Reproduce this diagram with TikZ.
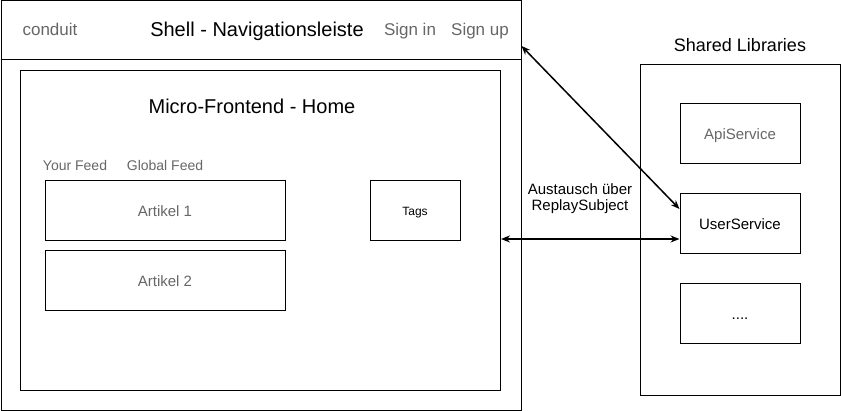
\documentclass[tikz,border=0pt]{standalone}
\usepackage{fontspec}
\setmainfont{Liberation Sans}
\usetikzlibrary{arrows.meta}
\definecolor{txtgrey}{HTML}{666666}
\tikzset{
  box/.style={draw=black, line width=1pt, minimum width=#1, inner sep=0pt},
  box/.default=120pt,
  lbl/.style={inner sep=0pt, text height={0.72*#1pt}, text depth=0pt, font=\fontsize{#1}{#1}\selectfont},
  glbl/.style={lbl=#1, text=txtgrey},
  link/.style={line width=1.5pt, {Stealth[length=9pt,width=7pt]}-{Stealth[length=9pt,width=7pt]}}
}
\begin{document}
\begin{tikzpicture}[x=1pt,y=-1pt]
\useasboundingbox (0,0) rectangle (841,411);
% shell
\node[box=520pt, minimum height=410pt, anchor=north west] (shell) at (0.5,0.5) {};
\draw[line width=1pt] (shell.west |- 0,60) coordinate (nl) -- (shell.east |- 0,60) coordinate (nr);
\node[glbl=17] (conduit) at (50,29) {conduit};
\node[lbl=20] (shelltitle) at (257,29) {Shell - Navigationsleiste};
\node[glbl=17] (signin) at (410,29) {Sign in};
\node[glbl=17] (signup) at (480,29) {Sign up};
% home
\node[box=480pt, minimum height=320pt, anchor=north west] (home) at (20,70) {};
\node[lbl=20] (hometitle) at (252,106) {Micro-Frontend - Home};
\node[glbl=14] (yourfeed) at (75,165) {Your Feed};
\node[glbl=14] (globalfeed) at (165,165) {Global Feed};
\node[box=240pt, minimum height=60pt, anchor=north] (art1) at (165,180.5) {};
\node[glbl=15] (art1t) at (art1) {Artikel 1};
\node[box=240pt, minimum height=60pt, anchor=north] (art2) at (165,250.5) {};
\node[glbl=15] (art2t) at (art2) {Artikel 2};
\node[box=90pt, minimum height=60pt, anchor=north] (tags) at (415,180.5) {};
\node[lbl=12] (tagst) at (tags) {Tags};
% shared libs
\node[lbl=18] (sharedtitle) at (740,45) {Shared Libraries};
\node[box=200pt, minimum height=331pt, anchor=north west] (shared) at (640,64) {};
\node[box=120pt, minimum height=60pt] (api) at (740,134) {};
\node[glbl=15] (apit) at (api) {ApiService};
\node[box=120pt, minimum height=60pt] (user) at (740,224) {};
\node[lbl=15] (usert) at (user) {UserService};
\node[box=120pt, minimum height=60pt] (more) at (740,314) {};
\node[lbl=15] (moret) at (more) {....};
% connectors
\coordinate (d1) at (shell.east |- 0,46);
\coordinate (d2) at (user.west |- 0,209);
\coordinate (h1) at (home.east |- 0,239);
\coordinate (h2) at (user.west |- 0,239);
\draw[link] (d1) -- (d2);
\draw[link] (h1) -- (h2);
\node[lbl=15, font=\fontsize{15}{16}\selectfont, align=center] (xlabel) at (580,205.6) {Austausch über\\ReplaySubject};
\end{tikzpicture}
\end{document}
